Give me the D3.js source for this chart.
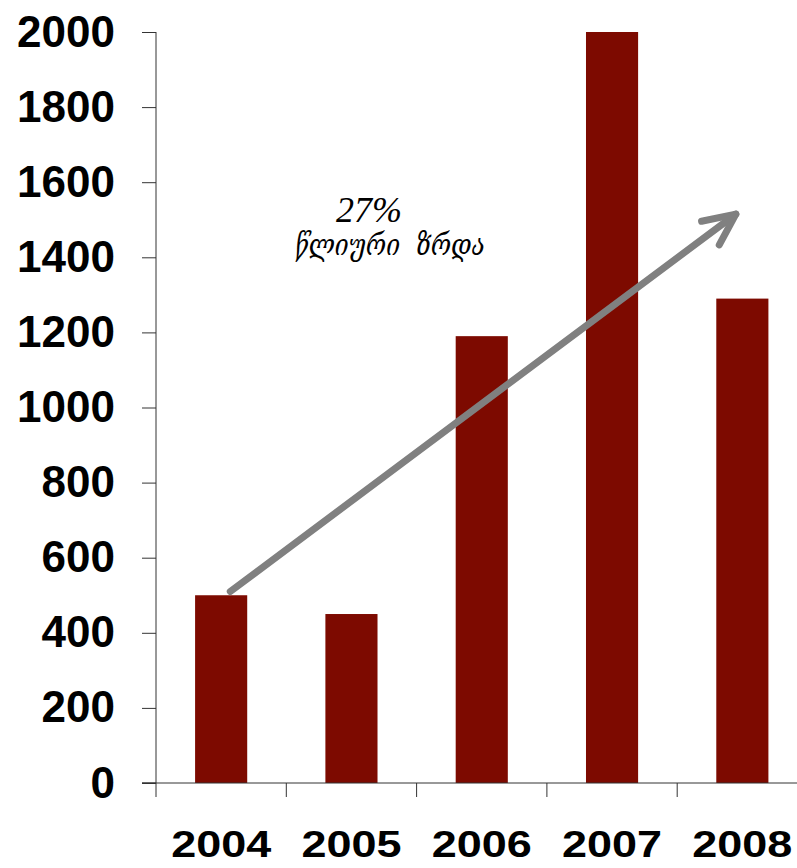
<!DOCTYPE html>
<html>
<head>
<meta charset="utf-8">
<script src="https://cdn.jsdelivr.net/npm/d3@7"></script>
<style>
  html, body { margin: 0; padding: 0; background: #fff; }
  svg { display: block; }
</style>
</head>
<body>
<svg id="chart" width="797" height="868"></svg>
<script>
// Yearly volumes
const years = ["2004", "2005", "2006", "2007", "2008"];
const values = [500, 450, 1190, 2000, 1290];
const yTicks = [0, 200, 400, 600, 800, 1000, 1200, 1400, 1600, 1800, 2000];

// Trend annotation (year band + offset in band steps, value)
const trendStart = { year: "2004", offset: 0.07, value: 510 };
const trendEnd = { year: "2008", offset: -0.05, value: 1515 };
const trendPct = "27%";
const trendLabel = "წლიური  ზრდა";

const svg = d3.select("#chart");

const x = d3.scaleBand()
  .domain(years)
  .range([156, 807.5])
  .paddingInner(0.6)
  .paddingOuter(0.3);

const y = d3.scaleLinear()
  .domain([0, 2000])
  .range([783, 32]);

const barColor = "#7d0a00";
const axisColor = "#333";

// Bars
svg.append("g")
  .selectAll("rect")
  .data(years.map((d, i) => ({ year: d, value: values[i] })))
  .join("rect")
  .attr("x", d => x(d.year))
  .attr("width", x.bandwidth())
  .attr("y", d => y(d.value))
  .attr("height", d => y(0) - y(d.value))
  .attr("fill", barColor);

// Y axis
const yAxis = svg.append("g")
  .attr("transform", `translate(${x.range()[0]},0)`)
  .call(d3.axisLeft(y).tickValues(yTicks).tickSize(14).tickPadding(27).tickFormat(d3.format("d")));
yAxis.select(".domain").attr("stroke", axisColor).attr("d", `M-14,${y(0)}H0V${y(2000)}`);
yAxis.selectAll(".tick line").attr("stroke", axisColor);
yAxis.selectAll(".tick text")
  .attr("font-family", "'Liberation Sans', Arial, sans-serif")
  .attr("font-weight", "bold")
  .attr("font-size", 44)
  .attr("fill", "#000");

// X axis: baseline, boundary ticks between categories, year labels
const step = x.step();
const bandStart = x.range()[0];
const xAxis = svg.append("g");
xAxis.append("line")
  .attr("x1", bandStart - 14).attr("x2", 797)
  .attr("y1", y(0)).attr("y2", y(0))
  .attr("stroke", axisColor);
xAxis.selectAll("line.sep")
  .data(years)
  .join("line")
  .attr("class", "sep")
  .attr("x1", d => x(d) - step * x.paddingOuter())
  .attr("x2", d => x(d) - step * x.paddingOuter())
  .attr("y1", y(0)).attr("y2", y(0) + 14)
  .attr("stroke", axisColor);
// Year labels are drawn wide (horizontally stretched)
xAxis.selectAll("text")
  .data(years)
  .join("text")
  .attr("x", d => x(d) + x.bandwidth() / 2)
  .attr("y", 857)
  .attr("text-anchor", "middle")
  .attr("font-family", "'Liberation Sans', Arial, sans-serif")
  .attr("font-weight", "bold")
  .attr("font-size", 36)
  .attr("textLength", 100)
  .attr("lengthAdjust", "spacingAndGlyphs")
  .attr("fill", "#000")
  .text(d => d);

// Trend arrow
const px = p => x(p.year) + x.bandwidth() / 2 + p.offset * step;
const x0 = px(trendStart), y0 = y(trendStart.value);
const x1 = px(trendEnd), y1 = y(trendEnd.value);
const ang = Math.atan2(y0 - y1, x0 - x1);
const headLen = 35, headAng = 25 * Math.PI / 180;
const arrow = svg.append("g")
  .attr("fill", "none")
  .attr("stroke", "#808080")
  .attr("stroke-width", 7)
  .attr("stroke-linecap", "round")
  .attr("stroke-linejoin", "round");
arrow.append("path").attr("d", d3.line()([[x0, y0], [x1, y1]]));
arrow.append("path").attr("d", d3.line()([
  [x1 + headLen * Math.cos(ang + headAng), y1 + headLen * Math.sin(ang + headAng)],
  [x1, y1],
  [x1 + headLen * Math.cos(ang - headAng), y1 + headLen * Math.sin(ang - headAng)]
]));

// Trend annotation text
svg.append("text")
  .attr("x", 369).attr("y", 222)
  .attr("text-anchor", "middle")
  .attr("font-family", "'Liberation Serif', 'Times New Roman', serif")
  .attr("font-style", "italic")
  .attr("font-size", 36)
  .attr("fill", "#000")
  .text(trendPct);
svg.append("text")
  .attr("x", 390).attr("y", 255)
  .attr("text-anchor", "middle")
  .attr("font-family", "'DejaVu Serif', serif")
  .attr("font-style", "italic")
  .attr("font-size", 29)
  .attr("textLength", 190)
  .attr("lengthAdjust", "spacingAndGlyphs")
  .attr("fill", "#000")
  .attr("xml:space", "preserve")
  .style("white-space", "pre")
  .text(trendLabel);
</script>
</body>
</html>
